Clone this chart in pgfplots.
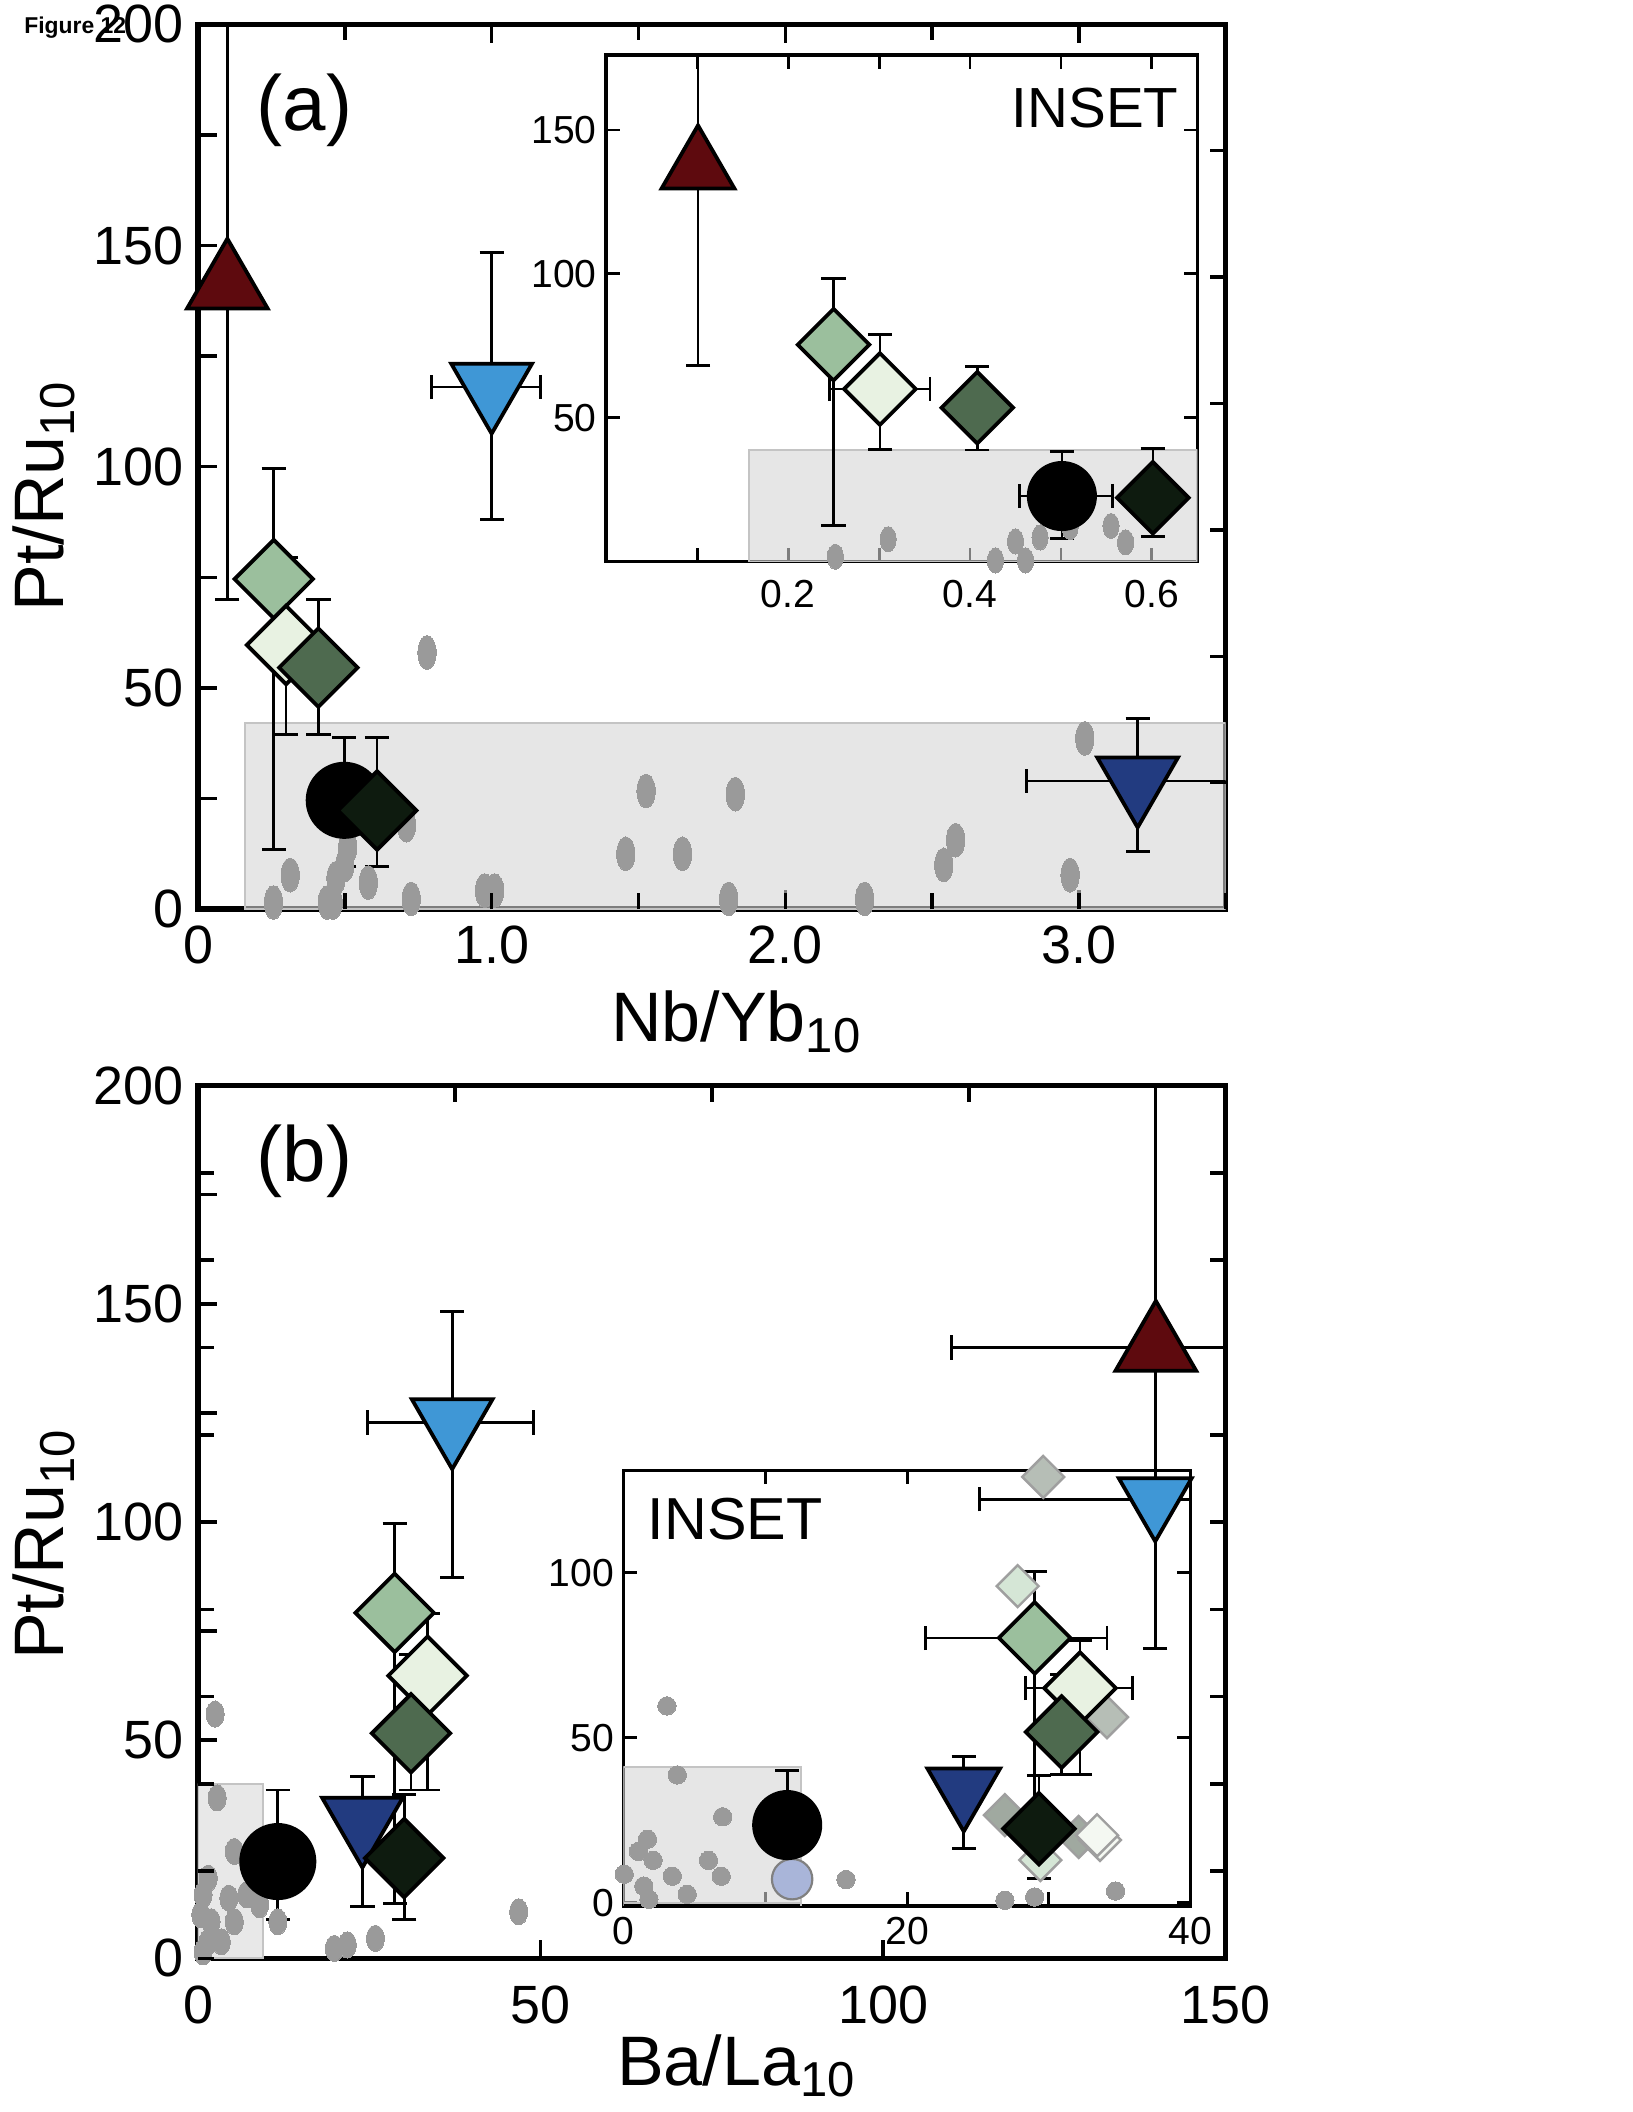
\documentclass[border=0pt]{standalone}
\usepackage{pgfplots}
\pgfplotsset{compat=1.18}
\usepackage{fontspec}
\setmainfont{Liberation Sans}

\definecolor{dred}{HTML}{5E0A0E}
\definecolor{lblue}{HTML}{3F97D6}
\definecolor{dblue}{HTML}{223B80}
\definecolor{gmed}{HTML}{9BBF9D}
\definecolor{glight}{HTML}{E8F2E2}
\definecolor{gdark}{HTML}{4E6A4F}
\definecolor{gvdark}{HTML}{0E1B0F}
\definecolor{dotgray}{HTML}{9A9A9A}
\definecolor{rectfill}{HTML}{D5D5D5}
\definecolor{rectline}{HTML}{C4C4C4}
\definecolor{bgcirc}{HTML}{A9B5D9}
\definecolor{ghgray}{HTML}{B6BEB6}
\definecolor{ghdark}{HTML}{A0A9A0}
\definecolor{ghlight}{HTML}{D5E6D6}
\definecolor{ghwhite}{HTML}{F4F8F2}

\pgfplotsset{
  mainax/.style={scale only axis, anchor=south west, tick align=inside,
    axis line style={line width=2pt}, tick style={line width=1.3pt, black},
    major tick length=7pt, minor tick length=4.5pt,
    ticklabel style={font=\fontsize{20}{20}\selectfont},
    xticklabel style={yshift=-2.8pt}, yticklabel style={xshift=-2pt},
    label style={font=\fontsize{26}{26}\selectfont}},
  insetax/.style={scale only axis, anchor=south west, tick align=inside,
    axis line style={line width=1.3pt}, tick style={line width=1.1pt, black},
    major tick length=5pt,
    ticklabel style={font=\fontsize{14.5}{14.5}\selectfont},
    axis background/.style={fill=white}},
  tickonly/.style={scale only axis, anchor=south west, tick align=inside,
    axis line style={draw=none}, tick style={line width=1.3pt, black},
    major tick length=6pt, xticklabels={}, yticklabels={}},
  % error bars with caps
  ebxy/.style={error bars/x dir=both, error bars/x explicit,
    error bars/y dir=both, error bars/y explicit,
    error bars/error bar style={line width=1pt, black},
    error bars/error mark options={rotate=90, line width=1.1pt, black, mark size=4.5pt}},
  eby/.style={error bars/y dir=both, error bars/y explicit,
    error bars/error bar style={line width=1pt, black},
    error bars/error mark options={rotate=90, line width=1.1pt, black, mark size=4.5pt}},
  % markers
  up/.style 2 args={only marks, mark=triangle*, mark size=#2,
    mark options={fill=#1, draw=black, line width=1.4pt}},
  down/.style 2 args={only marks, mark=triangle*, mark size=#2,
    mark options={rotate=180, fill=#1, draw=black, line width=1.4pt}},
  dia/.style 2 args={only marks, mark=square*, mark size=#2,
    mark options={rotate=45, fill=#1, draw=black, line width=1.4pt}},
  circ/.style 2 args={only marks, mark=*, mark size=#2,
    mark options={fill=#1, draw=black, line width=1pt}},
  ghost/.style={only marks, mark=square*, mark size=5.5pt,
    mark options={rotate=45, fill=#1, draw=gray!75, line width=0.9pt}},
  dots/.style 2 args={only marks, mark=*, mark size=#1, color=dotgray,
    mark options={draw=dotgray, fill=dotgray, line width=0pt, yscale=#2}},
}

\begin{document}
\begin{tikzpicture}
\useasboundingbox (0,0) rectangle (606pt,784pt);

\node[anchor=base west, font=\bfseries\fontsize{8.5}{8.5}\selectfont] at (5.5pt,771.5pt) {Figure 12};

% ---------------- panel (a) ----------------
\begin{axis}[mainax, at={(73.5pt,446.5pt)}, width=381.5pt, height=328.5pt,
  xmin=0, xmax=3.5, ymin=0, ymax=200,
  xtick={0,1,2,3}, xticklabels={0,1.0,2.0,3.0}, minor xtick={0.5,1.5,2.5},
  ytick={0,25,...,200}, yticklabels={0,,50,,100,,150,,200}, ytick pos=left,
  xlabel={Nb/Yb\textsubscript{10}}, ylabel={Pt/Ru\textsubscript{10}},
  xlabel style={at={(axis description cs:0.524,-0.149)}, anchor=base},
  ylabel style={at={(axis description cs:-0.131,0.467)}, rotate=0, anchor=base}]

\addplot[dots={3.4pt}{1.85}] coordinates {
  (0.257,1.5) (0.314,7.7) (0.44,1.5) (0.46,1.5) (0.47,7) (0.50,10) (0.51,14)
  (0.58,6) (0.71,19) (0.726,2.3) (0.976,4.2) (1.01,4.2) (1.457,12.5)
  (1.526,26.7) (1.65,12.5) (1.807,2.3) (1.83,26) (2.27,2.3) (2.54,10)
  (2.58,15.6) (2.97,7.7) (3.02,38.6) (0.78,58)
};
\addplot[draw=rectline, line width=0.8pt, fill=rectfill, fill opacity=0.59]
  coordinates {(0.16,0) (0.16,42) (3.5,42) (3.5,0)} \closedcycle;

\addplot[up={dred}{17.3pt}, eby] coordinates {(0.1,141) += (0,74) -= (0,71)};
\addplot[down={lblue}{17.3pt}, ebxy] coordinates {(1.0,118) += (0.165,30.5) -= (0.205,30)};
\addplot[down={dblue}{17.3pt}, ebxy] coordinates {(3.2,29) += (0.5,14.2) -= (0.38,15.9)};
\addplot[dia={gmed}{10.3pt}, eby] coordinates {(0.258,74.6) += (0,25.1) -= (0,61.2)};
\addplot[dia={glight}{10.3pt}, eby] coordinates {(0.30,59.7) += (0,19.8) -= (0,20.2)};
\addplot[dia={gdark}{10.3pt}, eby] coordinates {(0.41,54.6) += (0,15.4) -= (0,15.1)};
\addplot[circ={black}{13.8pt}, eby] coordinates {(0.498,24.6) += (0,14.3) -= (0,14.9)};
\addplot[dia={gvdark}{10.3pt}, eby] coordinates {(0.61,22.3) += (0,16.6) -= (0,12.6)};

\node[font=\fontsize{29}{29}\selectfont] at (axis description cs:0.1035,0.9026) {(a)};
\end{axis}

% right-hand ticks of panel (a)
\begin{axis}[tickonly, at={(73.5pt,446.5pt)}, width=381.5pt, height=328.5pt,
  xmin=0, xmax=3.5, ymin=0, ymax=200, xtick={}, ytick pos=right,
  ytick={28.5714,57.1429,85.7143,114.2857,142.8571,171.4286}]
\end{axis}

% inset (a)
\begin{axis}[insetax, at={(225pt,575.5pt)}, width=219.5pt, height=188pt,
  xmin=0, xmax=0.65, ymin=0, ymax=176,
  xtick={0.1,0.2,0.3,0.4,0.5,0.6}, xticklabels={,0.2,,0.4,,0.6},
  ytick={50,100,150}, yticklabels={50,100,150},
  xticklabel style={yshift=-3.5pt}]

\addplot[dots={3pt}{1.55}] coordinates {
  (0.252,1.7) (0.31,7.8) (0.428,0.4) (0.45,7) (0.461,0.4) (0.477,8.4)
  (0.51,12) (0.555,12.4) (0.571,6.7)
};
\addplot[draw=rectline, line width=0.8pt, fill=rectfill, fill opacity=0.59]
  coordinates {(0.157,-5) (0.157,38.8) (0.65,38.8) (0.65,-5)} \closedcycle;

\addplot[up={dred}{15.6pt}, eby] coordinates {(0.101,137) += (0,50) -= (0,69)};
\addplot[dia={gmed}{9.4pt}, eby] coordinates {(0.25,75.4) += (0,23.1) -= (0,63)};
\addplot[dia={glight}{9.4pt}, ebxy] coordinates {(0.301,60) += (0.055,19) -= (0.055,21)};
\addplot[dia={gdark}{9.4pt}, eby] coordinates {(0.408,53.5) += (0,14.2) -= (0,14.7)};
\addplot[circ={black}{12.5pt}, ebxy] coordinates {(0.501,22.8) += (0.056,15.5) -= (0.047,14.6)};
\addplot[dia={gvdark}{9.4pt}, eby] coordinates {(0.601,22.2) += (0,17) -= (0,13.4)};

\node[font=\fontsize{21}{21}\selectfont] at (axis description cs:0.827,0.896) {INSET};
\end{axis}

% ---------------- panel (b) ----------------
\begin{axis}[mainax, at={(73.5pt,57pt)}, width=381.5pt, height=324pt,
  xmin=0, xmax=150, ymin=0, ymax=200,
  xtick={0,50,100,150}, xticklabels={0,50,100,150}, xtick pos=left,
  ytick={0,25,...,200}, yticklabels={0,,50,,100,,150,,200}, ytick pos=left,
  xticklabel style={yshift=-4pt},
  xlabel={Ba/La\textsubscript{10}}, ylabel={Pt/Ru\textsubscript{10}},
  xlabel style={at={(axis description cs:0.524,-0.145)}, anchor=base},
  ylabel style={at={(axis description cs:-0.131,0.4745)}, rotate=0, anchor=base}]

\addplot[draw=rectline, line width=0.8pt, fill=black!9]
  coordinates {(0,0) (0,40) (9.5,40) (9.5,0)} \closedcycle;
\addplot[dots={3.35pt}{1.45}] coordinates {
  (2.5,56) (2.8,36.8) (5.3,24.5) (1.5,18.4) (0.75,14.6) (0.4,10) (1.9,8.4)
  (3.4,3.8) (1.5,3.8) (0.75,1.5) (4.5,13.8) (5.3,8.4) (7.1,14.6) (9.0,12.3)
  (11.65,8.4) (19.9,2.3) (21.8,3.1) (25.9,4.6) (46.8,10.7)
};

\addplot[up={dred}{17.3pt}, ebxy] coordinates {(139.8,140) += (25,75) -= (29.8,70)};
\addplot[down={lblue}{17.3pt}, ebxy] coordinates {(37.1,122.8) += (11.8,25.4) -= (12.3,35.4)};
\addplot[circ={black}{13.8pt}, eby] coordinates {(11.65,22.2) += (0,16.4) -= (0,13.3)};
\addplot[down={dblue}{17.3pt}, eby] coordinates {(24,31.5) += (0,10.3) -= (0,19.5)};
\addplot[dia={gmed}{10.3pt}, eby] coordinates {(28.7,79.2) += (0,20.4) -= (0,66.5)};
\addplot[dia={glight}{10.3pt}, eby] coordinates {(33.5,64.8) += (0,14.2) -= (0,26.2)};
\addplot[dia={gdark}{10.3pt}, eby] coordinates {(31.1,51.6) += (0,18.1) -= (0,13)};
\addplot[dia={gvdark}{10.3pt}, eby] coordinates {(30.1,23) += (0,14.5) -= (0,14.1)};

\node[font=\fontsize{29}{29}\selectfont] at (axis description cs:0.1035,0.9136) {(b)};
\end{axis}

% top ticks of panel (b)
\begin{axis}[tickonly, at={(73.5pt,57pt)}, width=381.5pt, height=324pt,
  xmin=0, xmax=150, ymin=0, ymax=200, ytick={}, xtick pos=right,
  xtick={37.5,75,112.5}]
\end{axis}

% inset (b)
\begin{axis}[insetax, at={(231.4pt,76.5pt)}, width=210.6pt, height=161.7pt,
  xmin=0, xmax=40, ymin=-1, ymax=131,
  xtick={0,10,20,30,40}, xticklabels={0,,20,,40},
  ytick={0,50,100}, yticklabels={0,50,100},
  xticklabel style={yshift=-0.7pt}]

\addplot[dots={3.4pt}{1}] coordinates {
  (3.07,59.6) (3.8,38.7) (7.0,26) (1.7,19.2) (1.06,15.5) (2.1,12.8) (0.06,8.6)
  (1.44,5) (3.45,8) (4.5,2.5) (6.0,12.8) (6.9,8) (1.8,1) (15.7,7) (26.9,0.7)
  (29,1.7) (34.7,3.5)
};
\addplot[draw=rectline, line width=0.8pt, fill=rectfill, fill opacity=0.59]
  coordinates {(0,-1) (0,41.1) (12.5,41.1) (12.5,-1)} \closedcycle;

\addplot[ghost=ghgray] coordinates {(29.6,129)};
\addplot[ghost=ghlight] coordinates {(27.8,95.9)};
\addplot[ghost=ghgray] coordinates {(34.1,56.2)};
\addplot[ghost=ghdark] coordinates {(26.9,26.5)};
\addplot[ghost=ghdark] coordinates {(32.1,19.9)};
\addplot[ghost=ghwhite] coordinates {(33.6,19.0)};
\addplot[ghost=ghwhite] coordinates {(33.4,20.4)};
\addplot[ghost=ghlight] coordinates {(29.4,12.9)};

\addplot[only marks, mark=*, mark size=7.5pt, mark options={fill=bgcirc, draw=gray, line width=0.8pt}] coordinates {(11.9,7.1)};
\addplot[circ={black}{12.5pt}, eby] coordinates {(11.55,23.5) += (0,16.4) -= (0,15.1)};
\addplot[down={dblue}{15.6pt}, eby] coordinates {(24,34.3) += (0,10.1) -= (0,17.8)};
\addplot[dia={gmed}{9.4pt}, ebxy] coordinates {(29,80.2) += (5.1,20) -= (7.7,68.4)};
\addplot[dia={glight}{9.4pt}, ebxy] coordinates {(32.2,65) += (3.7,14.5) -= (3.85,26.2)};
\addplot[dia={gdark}{9.4pt}, eby] coordinates {(30.9,51.7) += (0,17.3) -= (0,12.9)};
\addplot[dia={gvdark}{9.4pt}, eby] coordinates {(29.3,22.4) += (0,16.2) -= (0,15.1)};
\addplot[down={lblue}{15.6pt}, ebxy] coordinates {(37.5,122.2) += (10,20) -= (12.4,45.2)};

\node[font=\fontsize{22}{22}\selectfont] at (axis description cs:0.197,0.889) {INSET};
\end{axis}

\end{tikzpicture}
\end{document}
